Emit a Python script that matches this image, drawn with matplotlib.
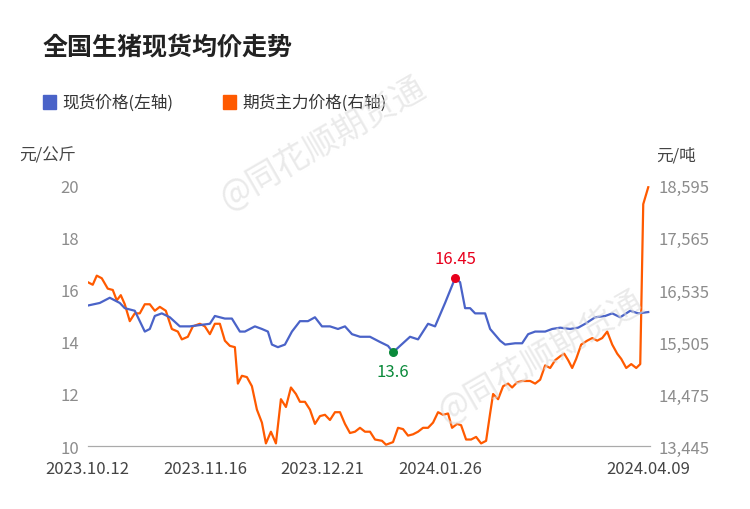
import matplotlib
matplotlib.use("Agg")
import matplotlib.pyplot as plt
from matplotlib import font_manager as fm

cjk = sorted({f.name for f in fm.fontManager.ttflist if "CJK" in f.name})
sans = [n for n in cjk if "Sans" in n]
fam = "Noto Sans CJK SC" if "Noto Sans CJK SC" in sans else (sans[0] if sans else (cjk[0] if cjk else "DejaVu Sans"))
plt.rcParams["font.family"] = [fam, "DejaVu Sans"]

tick_pos = [0, 117, 234, 352, 560]
tick_labels = ["2023.10.12", "2023.11.16", "2023.12.21", "2024.01.26", "2024.04.09"]

spot_t = [0,12,22,32,37,47,57,62,67,74,82,92,102,112,122,127,137,144,152,157,167,174,180,184,190,197,204,212,220,227,234,242,250,257,264,272,282,292,300,305,312,322,330,340,347,357,367,372,377,382,387,397,402,412,417,427,434,440,447,457,464,472,482,490,497,507,517,524,532,542,550,560]
spot_v = [15.4,15.5,15.7,15.5,15.3,15.2,14.4,14.5,15.0,15.1,14.95,14.6,14.6,14.65,14.7,15.0,14.9,14.9,14.4,14.4,14.6,14.5,14.4,13.9,13.8,13.9,14.4,14.8,14.8,14.95,14.6,14.6,14.5,14.6,14.3,14.2,14.2,14.0,13.85,13.6,13.85,14.2,14.1,14.7,14.6,15.5,16.45,16.3,15.3,15.3,15.1,15.1,14.5,14.05,13.9,13.95,13.95,14.3,14.4,14.4,14.5,14.55,14.5,14.55,14.7,14.95,15.0,15.1,14.95,15.2,15.1,15.15]

fut_t = [0,5,9,14,20,25,29,33,37,42,47,52,57,62,67,72,78,84,90,94,100,105,112,117,122,127,132,137,142,147,150,154,159,164,169,174,178,183,188,193,198,203,208,212,217,222,227,232,237,242,247,252,257,262,267,272,277,282,287,294,298,305,310,315,320,325,330,335,340,345,350,355,360,364,369,373,378,383,388,393,398,402,405,410,415,420,424,429,434,442,447,452,457,462,467,472,476,480,484,488,493,499,504,509,514,519,524,529,533,538,543,548,552,555,560]
fut_v = [16.3,16.2,16.55,16.45,16.05,16.0,15.6,15.8,15.45,14.8,15.1,15.1,15.45,15.45,15.2,15.35,15.2,14.5,14.4,14.1,14.2,14.6,14.7,14.6,14.3,14.7,14.7,14.05,13.85,13.8,12.4,12.7,12.65,12.3,11.4,10.9,10.1,10.55,10.1,11.8,11.5,12.25,12.0,11.7,11.7,11.4,10.85,11.15,11.2,11.0,11.3,11.3,10.85,10.5,10.55,10.7,10.55,10.55,10.25,10.2,10.05,10.15,10.7,10.65,10.4,10.45,10.55,10.7,10.7,10.9,11.3,11.2,11.25,10.7,10.85,10.8,10.25,10.25,10.35,10.1,10.2,11.25,12.0,11.8,12.3,12.4,12.25,12.45,12.5,12.5,12.4,12.55,13.1,13.0,13.3,13.45,13.55,13.3,13.0,13.35,13.9,14.05,14.15,14.05,14.15,14.4,13.9,13.55,13.35,13.0,13.15,13.0,13.15,19.3,19.95]
fut_yuan = [13445 + (v - 10) * 515 for v in fut_v]

blue = "#4a63c8"
orange = "#ff5a00"
grey = "#8c8c8c"

fig = plt.figure(figsize=(7.5, 5.1), dpi=100)
ax = fig.add_axes([0.117, 0.1235, 0.75, 0.51])
ax2 = ax.twinx()

ax.plot(spot_t, spot_v, color=blue, lw=1.6, zorder=3)
ax2.plot(fut_t, fut_yuan, color=orange, lw=1.6)
ax.set_zorder(ax2.get_zorder() + 1)
ax.patch.set_visible(False)

ax.set_xlim(0, 562)
ax.set_ylim(10, 20)
ax2.set_ylim(13445, 18595)
ax.set_yticks([10, 12, 14, 16, 18, 20])
ax2.set_yticks([13445, 14475, 15505, 16535, 17565, 18595])
ax2.set_yticklabels(["13,445", "14,475", "15,505", "16,535", "17,565", "18,595"])
ax.set_xticks(tick_pos)
ax.set_xticklabels(tick_labels)
for a in (ax, ax2):
    for s in ("top", "left", "right"):
        a.spines[s].set_visible(False)
    a.spines["bottom"].set_color("#aaaaaa")
    a.tick_params(length=0, labelsize=12, colors=grey, pad=6)
ax.tick_params(axis="x", colors="#444444", labelsize=12, pad=10)

imax = spot_v.index(max(spot_v))
imin = spot_v.index(min(spot_v))
ax.scatter([spot_t[imax]], [spot_v[imax]], color="#e8001c", s=30, zorder=5)
ax.annotate(f"{spot_v[imax]:.2f}", (spot_t[imax], spot_v[imax]), xytext=(0, 8),
            textcoords="offset points", ha="center", va="bottom", color="#e8001c", fontsize=12)
ax.scatter([spot_t[imin]], [spot_v[imin]], color="#0a8a3a", s=30, zorder=5)
ax.annotate(f"{spot_v[imin]:.1f}", (spot_t[imin], spot_v[imin]), xytext=(0, -8),
            textcoords="offset points", ha="center", va="top", color="#0a8a3a", fontsize=12)

fig.text(0.057, 0.905, "全国生猪现货均价走势", fontsize=18, fontweight="bold", color="#222222", va="center")
fig.patches.append(plt.Rectangle((0.057, 0.785), 0.017, 0.026, color=blue, transform=fig.transFigure))
fig.text(0.083, 0.798, "现货价格(左轴)", fontsize=12, color="#333333", va="center")
fig.patches.append(plt.Rectangle((0.297, 0.785), 0.017, 0.026, color=orange, transform=fig.transFigure))
fig.text(0.323, 0.798, "期货主力价格(右轴)", fontsize=12, color="#333333", va="center")
fig.text(0.025, 0.695, "元/公斤", fontsize=12, color="#444444", va="center")
fig.text(0.875, 0.695, "元/吨", fontsize=12, color="#444444", va="center")

fig.text(0.43, 0.72, "@同花顺期货通", fontsize=24, color="#dddddd", rotation=30, ha="center", va="center", alpha=0.6)
fig.text(0.72, 0.3, "@同花顺期货通", fontsize=24, color="#dddddd", rotation=30, ha="center", va="center", alpha=0.6)

fig.savefig("out.png", dpi=100)
